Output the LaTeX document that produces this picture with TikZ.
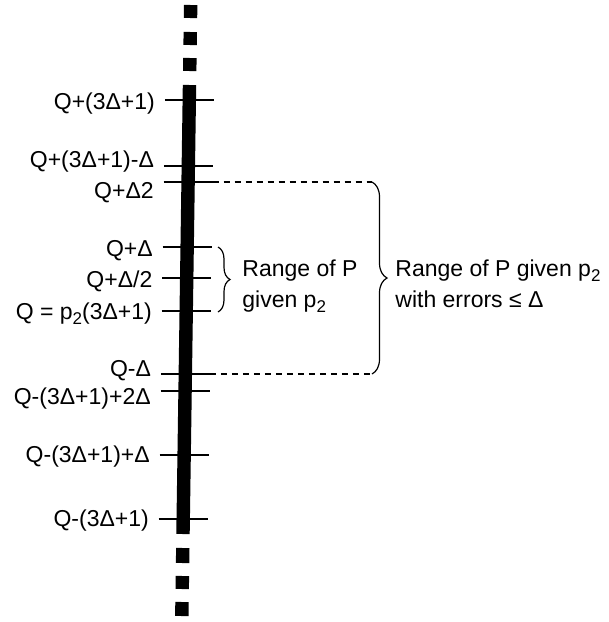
\documentclass[tikz,border=0pt]{standalone}
\usepackage{fontspec}
\setmainfont{Liberation Sans}
\usetikzlibrary{decorations.pathreplacing}
% lowered small index, as in p_2
\newcommand{\lowidx}[1]{\raisebox{-0.45ex}{\fontsize{8.5}{8.5}\selectfont #1}}
\begin{document}
\begin{tikzpicture}[x=0.5pt,y=-0.5pt,
  tick/.style={line width=0.6pt},
  level/.style={anchor=base east, inner sep=0pt, font=\fontsize{11.5}{14}\selectfont},
  note/.style={anchor=base west, inner sep=0pt, align=left, font=\fontsize{11.5}{15.5}\selectfont},
  guide/.style={line width=0.6pt, dash pattern=on 3.2pt off 2.3pt},
  bracket/.style={line width=0.6pt, decorate, decoration={brace, amplitude=#1}},
  axis/.style={line width=6.7pt}]
\useasboundingbox (0,0) rectangle (609,622);

% ticks across the axis and their labels: name / y / axis centre / baseline shift / label
\foreach \n/\y/\c/\b/\t in {
  a/100/189.28/9/{Q+(3Δ+1)},
  b/166/188.33/1/{Q+(3Δ+1)-Δ},
  c/182/188.10/16/{Q+Δ2},
  d/247/187.15/9/{Q+Δ},
  e/278/186.71/9/{Q+Δ/2},
  f/311/186.23/8/{Q = p\lowidx{2}(3Δ+1)},
  g/374/185.32/2/{Q-Δ},
  h/391/185.07/13/{Q-(3Δ+1)+2Δ},
  i/455/184.14/7/{Q-(3Δ+1)+Δ},
  j/519/183.22/7/{Q-(3Δ+1)}}
{
  \coordinate (\n-l) at (\c-24.5,\y);
  \coordinate (\n-r) at (\c+24.5,\y);
  \draw[tick] (\n-l) -- (\n-r);
  \node[level] (\n-lab) at (\c-34,\y+\b) {\t};
}

% the axis, continued by square dots at both ends
\draw[axis] (189.5,85) -- (183.0,534);
\draw[axis] (190.7,5) -- (190.5,18);
\draw[axis] (190.3,32) -- (190.1,45);
\draw[axis] (189.9,58) -- (189.7,71);
\draw[axis] (182.8,548) -- (182.6,563);
\draw[axis] (182.4,576) -- (182.2,589);
\draw[axis] (182.0,602) -- (181.8,616);

% narrow range (node anchored on the baseline of its last line)
\coordinate (smtop) at (218,247);
\coordinate (smbot) at (218,312);
\draw[bracket=6pt] (smtop) -- (smbot);
\node[note] (small) at (242,307) {Range of P\\given p\lowidx{2}};

% wide range with errors
\coordinate (bigtop) at (372,182);
\coordinate (bigbot) at (372,374);
\draw[guide] (c-r) -- (bigtop);
\draw[guide] (g-r) -- (bigbot);
\draw[bracket=7.5pt] (bigtop) -- (bigbot);
\node[note] (big) at (395,307) {Range of P given p\lowidx{2}\\with errors ≤ Δ};
\end{tikzpicture}
\end{document}
